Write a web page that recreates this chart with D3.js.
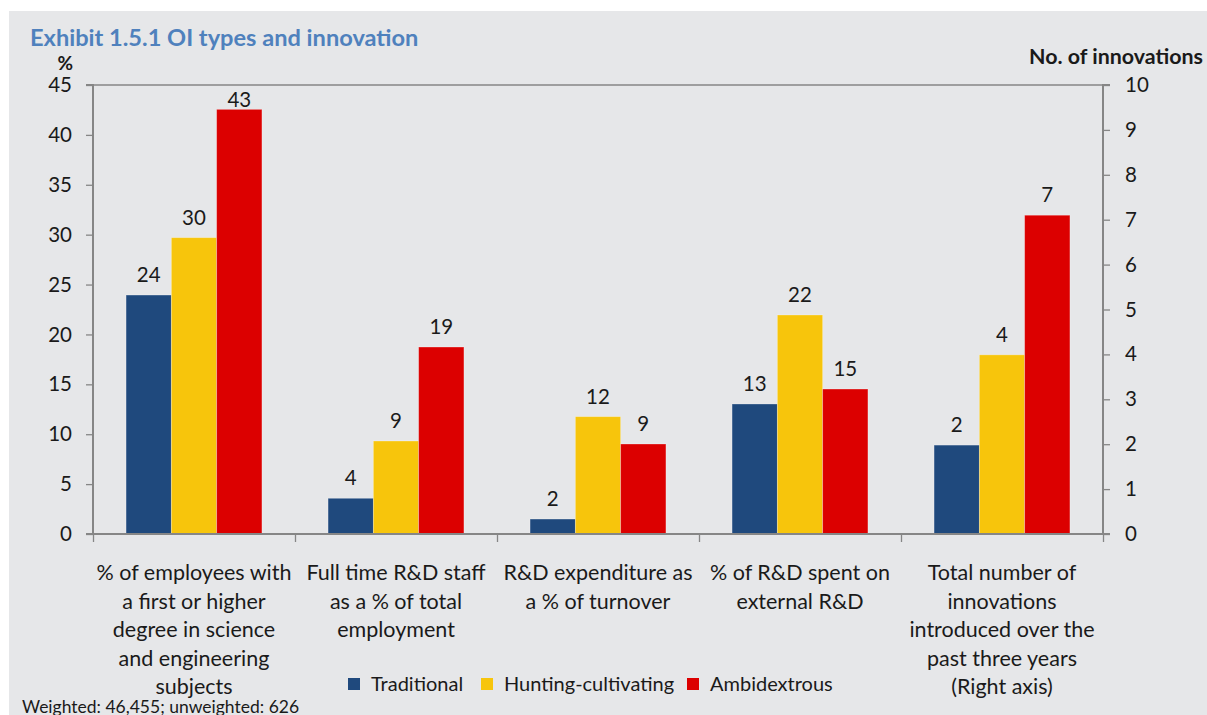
<!DOCTYPE html>
<html>
<head>
<meta charset="utf-8">
<script src="https://cdn.jsdelivr.net/npm/d3@7/dist/d3.min.js"></script>
<style>
  body { margin: 0; background: #ffffff; }
  svg { display: block; }
  text { font-family: Lato, "Open Sans", sans-serif; fill: #1a1a1a; }
</style>
</head>
<body>
<svg id="chart" width="1207" height="715"></svg>
<script>
// ---------- data ----------
const categories = [
  ["% of employees with", "a first or higher", "degree in science", "and engineering", "subjects"],
  ["Full time R&D staff", "as a % of total", "employment"],
  ["R&D expenditure as", "a % of turnover"],
  ["% of R&D spent on", "external R&D"],
  ["Total number of", "innovations", "introduced over the", "past three years", "(Right axis)"]
];
const seriesNames = ["Traditional", "Hunting-cultivating", "Ambidextrous"];
const traditional = [23.95, 3.58, 1.5, 13.03, 1.98];
const huntingCultivating = [29.7, 9.32, 11.76, 21.95, 3.99];
const ambidextrous = [42.56, 18.74, 9.02, 14.53, 7.1];
const rightAxisCategory = 4; // last category plotted against right axis
const leftTicks = [0, 5, 10, 15, 20, 25, 30, 35, 40, 45];
const rightTicks = [0, 1, 2, 3, 4, 5, 6, 7, 8, 9, 10];
const colors = ["#1f497d", "#f7c50c", "#dc0000"];

const seriesValues = [traditional, huntingCultivating, ambidextrous];

// ---------- layout ----------
const svg = d3.select("#chart");
const pLeft = 93, pRight = 1103, pTop = 85, pBottom = 534;

svg.append("rect").attr("x", 9).attr("y", 11).attr("width", 1207 - 9).attr("height", 715 - 11)
  .attr("fill", "#e6e7e9");

const catIdx = categories.map((d, i) => i);
const x0 = d3.scaleBand().domain(catIdx).range([pLeft, pRight]).padding(0);
const x1 = d3.scaleBand().domain(d3.range(seriesNames.length))
  .range([0, x0.bandwidth()]).paddingInner(0).paddingOuter(0.73);
const yL = d3.scaleLinear().domain([0, 45]).range([pBottom, pTop]);
const yR = d3.scaleLinear().domain([0, 10]).range([pBottom, pTop]);
const axisColor = "#868686";

// top gridline
svg.append("line").attr("x1", pLeft).attr("x2", pRight).attr("y1", yL(45)).attr("y2", yL(45))
  .attr("stroke", axisColor).attr("stroke-width", 1.3);

// bars
const rows = [];
catIdx.forEach(ci => seriesNames.forEach((s, si) => {
  rows.push({ ci, si, v: seriesValues[si][ci] });
}));
const yFor = d => d.ci === rightAxisCategory ? yR : yL;

svg.append("g").selectAll("rect").data(rows).join("rect")
  .attr("x", d => x0(d.ci) + x1(d.si))
  .attr("width", x1.bandwidth())
  .attr("y", d => yFor(d)(d.v))
  .attr("height", d => pBottom - yFor(d)(d.v))
  .attr("fill", d => colors[d.si])
  .attr("stroke", "rgba(255,255,255,0.35)")
  .attr("stroke-width", 0.8);

// data labels
svg.append("g").selectAll("text").data(rows).join("text")
  .attr("x", d => x0(d.ci) + x1(d.si) + x1.bandwidth() / 2)
  .attr("y", d => Math.max(yFor(d)(d.v) - 13, pTop + 22))
  .attr("text-anchor", "middle")
  .attr("font-size", 20.5)
  .text(d => Math.round(d.v));

// left axis
const gL = svg.append("g").attr("transform", `translate(${pLeft},0)`)
  .call(d3.axisLeft(yL).tickValues(leftTicks).tickSize(7).tickPadding(14));
// right axis
const gR = svg.append("g").attr("transform", `translate(${pRight},0)`)
  .call(d3.axisRight(yR).tickValues(rightTicks).tickSize(7).tickPadding(15));
// bottom axis with ticks at category boundaries
const boundaries = d3.range(categories.length + 1).map(i => pLeft + i * x0.step());
const xb = d3.scaleLinear().domain([pLeft, pRight]).range([pLeft, pRight]);
const gB = svg.append("g").attr("transform", `translate(0,${pBottom})`)
  .call(d3.axisBottom(xb).tickValues(boundaries).tickSize(8).tickFormat(""));

[gL, gR, gB].forEach(g => {
  g.selectAll(".domain").attr("stroke", axisColor).attr("stroke-width", 2);
  g.selectAll(".tick line").attr("stroke", axisColor).attr("stroke-width", 1.3);
  g.selectAll(".tick text").attr("font-size", 20.5).attr("fill", "#1a1a1a")
    .attr("font-family", "Lato, sans-serif");
});
gL.select(".domain").attr("d", `M-7,${pTop}H0V${pBottom}H-7`);
gR.select(".domain").attr("d", `M7,${pTop}H0V${pBottom}H7`);
gB.select(".domain").attr("d", `M${pLeft},0H${pRight}`);

// category labels
const catG = svg.append("g").selectAll("text").data(categories).join("text")
  .attr("text-anchor", "middle")
  .attr("font-size", 21.5)
  .attr("transform", (d, i) => `translate(${x0(i) + x0.bandwidth() / 2},580)`);
catG.selectAll("tspan").data(d => d).join("tspan")
  .attr("x", 0).attr("y", (d, i) => i * 28.5).text(d => d);

// titles
svg.append("text").attr("x", 30).attr("y", 46).attr("font-size", 23.6).attr("font-weight", "bold")
  .style("fill", "#4f81bd").text("Exhibit 1.5.1 OI types and innovation");
svg.append("text").attr("x", 73).attr("y", 70).attr("text-anchor", "end").attr("font-size", 19)
  .attr("font-weight", "bold").text("%");
svg.append("text").attr("x", 1203).attr("y", 64).attr("text-anchor", "end").attr("font-size", 21.4)
  .attr("font-weight", "bold").text("No. of innovations");

// legend
const legendX = [348, 481, 687];
const lg = svg.append("g").selectAll("g").data(seriesNames).join("g")
  .attr("transform", (d, i) => `translate(${legendX[i]},678)`);
lg.append("rect").attr("width", 12).attr("height", 12).attr("fill", (d, i) => colors[i]);
lg.append("text").attr("x", 23).attr("y", 13).attr("font-size", 20).text(d => d);

// footnote
svg.append("text").attr("x", 22).attr("y", 713).attr("font-size", 17.5)
  .text("Weighted: 46,455; unweighted: 626");
</script>
</body>
</html>
